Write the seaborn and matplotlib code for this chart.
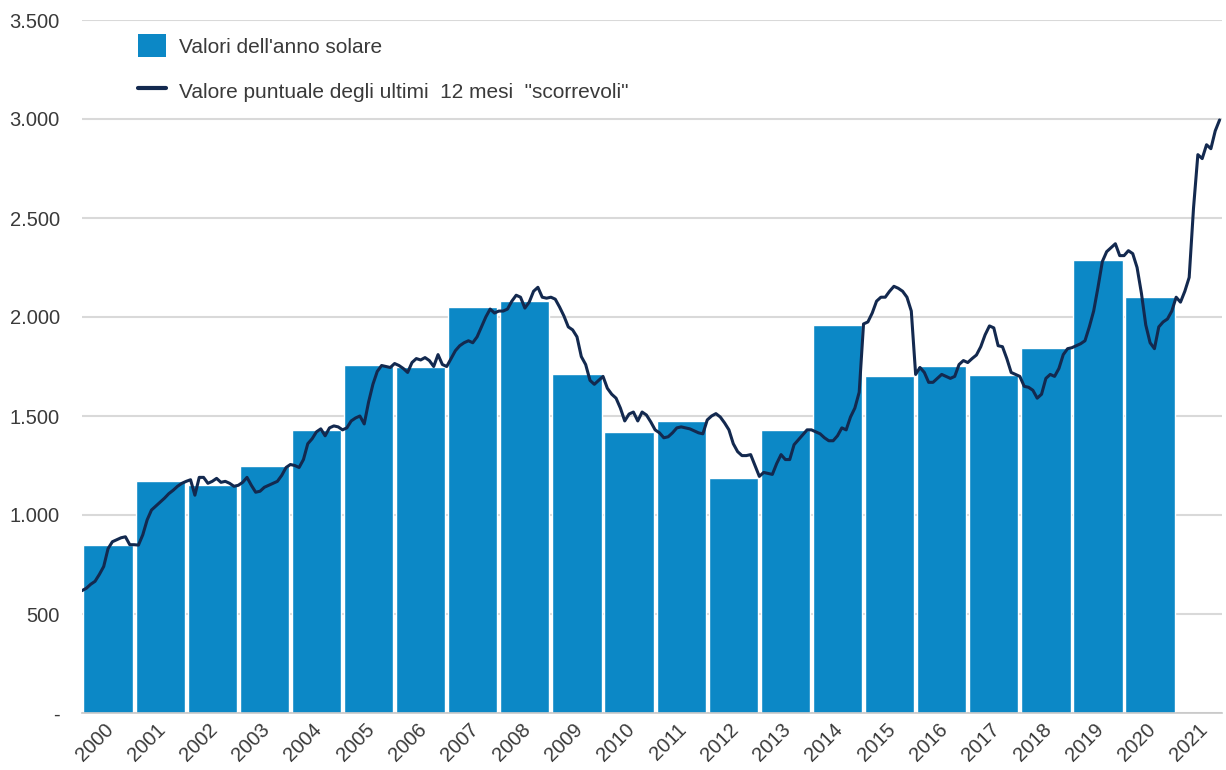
import numpy as np
import pandas as pd
import matplotlib
matplotlib.use("Agg")
import matplotlib.pyplot as plt
from matplotlib.patches import Patch
from matplotlib.lines import Line2D
import seaborn as sns

# annual values (bars)
years = [str(y) for y in range(2000, 2021)]
annual_values = [850, 1170, 1150, 1250, 1430, 1760, 1745, 2050, 2080, 1710, 1420,
                 1475, 1185, 1430, 1960, 1700, 1755, 1705, 1843, 2290, 2100]
tick_years = [str(y) for y in range(2000, 2022)]

# rolling 12-month value, monthly, starting Dec 1999
roll_start = "1999-12"
rolling_12m = [
    618,
    630, 650, 665, 700, 740, 830, 865, 875, 885, 890, 850, 850,            # 2000
    848, 900, 975, 1025, 1045, 1065, 1085, 1108, 1125, 1145, 1160, 1170,   # 2001
    1178, 1100, 1190, 1190, 1160, 1170, 1185, 1165, 1170, 1160, 1145, 1150,  # 2002
    1165, 1190, 1150, 1115, 1120, 1140, 1150, 1160, 1170, 1200, 1240, 1255,  # 2003
    1250, 1240, 1280, 1360, 1385, 1420, 1435, 1400, 1440, 1450, 1445, 1430,  # 2004
    1440, 1475, 1490, 1500, 1460, 1570, 1660, 1725, 1755, 1750, 1745, 1765,  # 2005
    1755, 1740, 1720, 1770, 1790, 1783, 1795, 1780, 1750, 1810, 1760, 1750,  # 2006
    1790, 1830, 1855, 1870, 1880, 1870, 1900, 1950, 2000, 2040, 2020, 2030,  # 2007
    2030, 2040, 2080, 2110, 2100, 2045, 2075, 2130, 2150, 2100, 2095, 2100,  # 2008
    2090, 2050, 2005, 1950, 1935, 1900, 1800, 1760, 1680, 1660, 1680, 1700,  # 2009
    1640, 1610, 1590, 1540, 1475, 1510, 1520, 1475, 1520, 1505, 1470, 1430,  # 2010
    1415, 1390, 1395, 1415, 1440, 1445, 1440, 1435, 1425, 1415, 1410, 1480,  # 2011
    1500, 1512, 1495, 1465, 1430, 1360, 1320, 1300, 1300, 1305, 1250, 1195,  # 2012
    1215, 1210, 1205, 1260, 1305, 1280, 1280, 1355, 1380, 1405, 1430, 1430,  # 2013
    1420, 1410, 1390, 1375, 1375, 1400, 1440, 1430, 1495, 1540, 1620, 1965,  # 2014
    1975, 2020, 2080, 2100, 2100, 2130, 2155, 2145, 2130, 2100, 2030, 1710,  # 2015
    1745, 1720, 1670, 1670, 1690, 1710, 1700, 1690, 1700, 1760, 1780, 1770,  # 2016
    1790, 1808, 1850, 1910, 1955, 1945, 1855, 1850, 1790, 1720, 1710, 1700,  # 2017
    1650, 1645, 1630, 1590, 1610, 1690, 1710, 1700, 1740, 1810, 1840, 1845,  # 2018
    1855, 1865, 1880, 1950, 2030, 2150, 2280, 2330, 2350, 2370, 2310, 2310,  # 2019
    2335, 2320, 2250, 2120, 1960, 1870, 1840, 1950, 1975, 1990, 2030, 2100,  # 2020
    2075, 2130, 2200, 2550, 2820, 2800, 2870, 2850, 2940, 2995,              # 2021
]

y_ticks = [0, 500, 1000, 1500, 2000, 2500, 3000, 3500]
y_ticklabels = ["-", "500", "1.000", "1.500", "2.000", "2.500", "3.000", "3.500"]

bar_color = "#0c88c6"
line_color = "#13294f"
text_color = "#3a3a3a"

sns.set_theme(style="white")
plt.rcParams["font.family"] = ["Liberation Sans", "DejaVu Sans"]

months = pd.date_range(roll_start, periods=len(rolling_12m), freq="MS")
# December value sits at the right edge of that year's bar
month_pos = (months.year - 2000) - 0.5 + months.month / 12.0
line_df = pd.DataFrame({"pos": month_pos, "value": rolling_12m})
bar_df = pd.DataFrame({"year": years, "value": annual_values})

fig = plt.figure(figsize=(12.26, 7.70), dpi=100)
ax = fig.add_axes([82 / 1226, 1 - 713 / 770, (1222 - 82) / 1226, (713 - 20) / 770])

sns.barplot(data=bar_df, x="year", y="value", color=bar_color, saturation=1,
            width=0.945, ax=ax, zorder=2)
sns.lineplot(data=line_df, x="pos", y="value", color=line_color, linewidth=2.2,
             ax=ax, zorder=3)

ax.set_xlim(-0.5, 21.38)
ax.set_ylim(0, 3500)
ax.set_yticks(y_ticks)
ax.set_yticklabels(y_ticklabels, fontsize=14.5, color=text_color)
# rotated labels sit a bit right of the bar centres, as in the original
ax.set_xticks(np.arange(len(tick_years)) + 0.18)
ax.set_xticklabels(tick_years, rotation=45, ha="right", fontsize=14.5, color=text_color)
ax.tick_params(axis="x", length=0, pad=5)
ax.tick_params(axis="y", length=0, pad=16)
ax.set_xlabel("")
ax.set_ylabel("")

ax.grid(axis="y", color="#d9d9d9", linewidth=1.5, zorder=0)
ax.set_axisbelow(True)
for s in ["top", "right", "left"]:
    ax.spines[s].set_visible(False)
ax.spines["bottom"].set_color("#c8c8c8")
ax.spines["bottom"].set_linewidth(1.2)

handles = [
    Patch(facecolor=bar_color, edgecolor="none", label="Valori dell'anno solare"),
    Line2D([0], [0], color=line_color, linewidth=3,
           label='Valore puntuale degli ultimi  12 mesi  "scorrevoli"'),
]
leg = ax.legend(handles=handles, loc="upper left", bbox_to_anchor=(0.042, 0.992),
                frameon=False, fontsize=15, handlelength=1.35, handleheight=1.35,
                labelspacing=1.05, handletextpad=0.6, borderaxespad=0)
for t in leg.get_texts():
    t.set_color(text_color)

fig.savefig("out.png", dpi=100)
